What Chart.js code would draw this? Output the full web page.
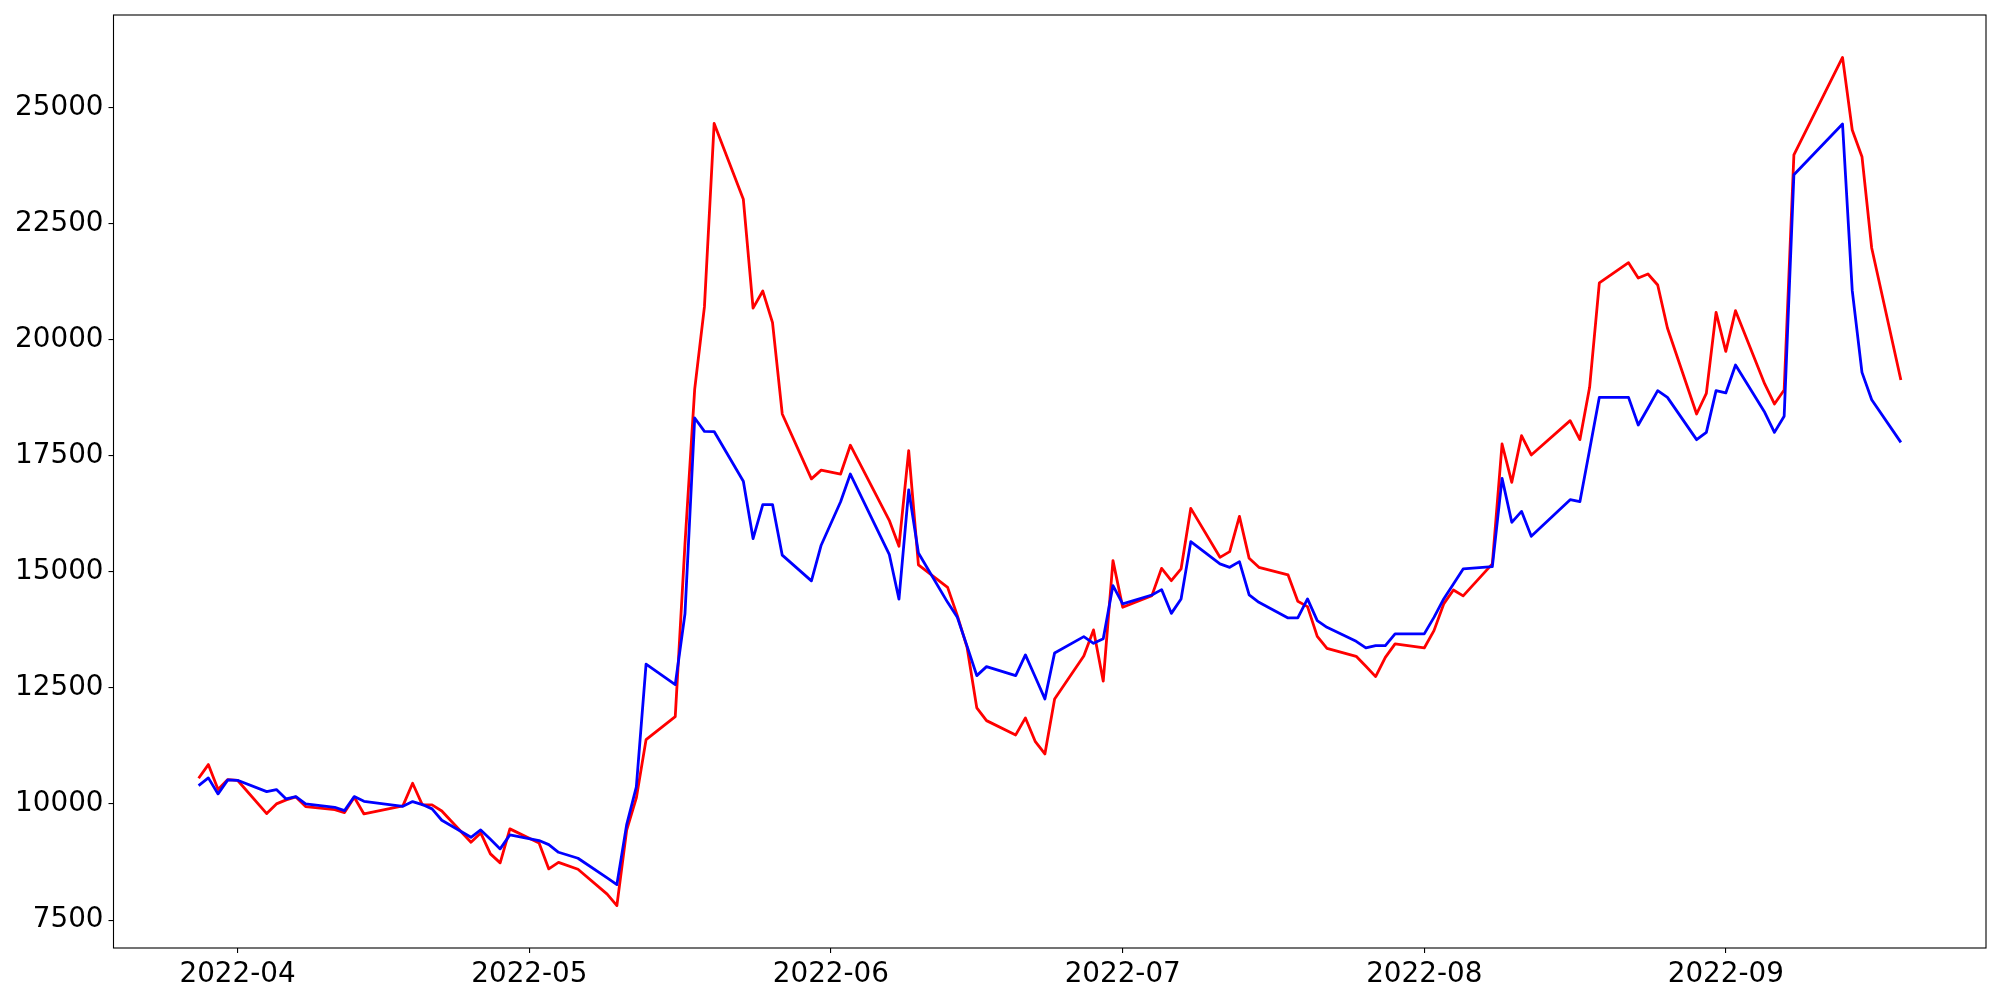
<!DOCTYPE html>
<html>
<head>
<meta charset="utf-8">
<script src="https://cdn.jsdelivr.net/npm/chart.js@4/dist/chart.umd.min.js"></script>
<style>
  body { margin: 0; background: #fff; }
  #wrap { width: 2000px; height: 1000px; }
</style>
</head>
<body>
<div id="wrap"><canvas id="chart" width="2000" height="1000"></canvas></div>
<script>
const dates = [
  '2022-03-28', '2022-03-29', '2022-03-30', '2022-03-31', '2022-04-01',
  '2022-04-04', '2022-04-05', '2022-04-06', '2022-04-07', '2022-04-08',
  '2022-04-11', '2022-04-12', '2022-04-13', '2022-04-14',
  '2022-04-18', '2022-04-19', '2022-04-20', '2022-04-21', '2022-04-22',
  '2022-04-25', '2022-04-26', '2022-04-27', '2022-04-28', '2022-04-29',
  '2022-05-02', '2022-05-03', '2022-05-04', '2022-05-06',
  '2022-05-09', '2022-05-10', '2022-05-11', '2022-05-12', '2022-05-13',
  '2022-05-16', '2022-05-17', '2022-05-18', '2022-05-19', '2022-05-20',
  '2022-05-23', '2022-05-24', '2022-05-25', '2022-05-26', '2022-05-27',
  '2022-05-30', '2022-05-31', '2022-06-02', '2022-06-03',
  '2022-06-07', '2022-06-08', '2022-06-09', '2022-06-10',
  '2022-06-13', '2022-06-14', '2022-06-15', '2022-06-16', '2022-06-17',
  '2022-06-20', '2022-06-21', '2022-06-22', '2022-06-23', '2022-06-24',
  '2022-06-27', '2022-06-28', '2022-06-29', '2022-06-30', '2022-07-01',
  '2022-07-04', '2022-07-05', '2022-07-06', '2022-07-07', '2022-07-08',
  '2022-07-11', '2022-07-12', '2022-07-13', '2022-07-14', '2022-07-15',
  '2022-07-18', '2022-07-19', '2022-07-20', '2022-07-21', '2022-07-22',
  '2022-07-25', '2022-07-26', '2022-07-27', '2022-07-28', '2022-07-29',
  '2022-08-01', '2022-08-02', '2022-08-03', '2022-08-04', '2022-08-05',
  '2022-08-08', '2022-08-09', '2022-08-10', '2022-08-11', '2022-08-12',
  '2022-08-16', '2022-08-17', '2022-08-18', '2022-08-19',
  '2022-08-22', '2022-08-23', '2022-08-24', '2022-08-25', '2022-08-26',
  '2022-08-29', '2022-08-30', '2022-08-31', '2022-09-01', '2022-09-02',
  '2022-09-05', '2022-09-06', '2022-09-07', '2022-09-08',
  '2022-09-13', '2022-09-14', '2022-09-15', '2022-09-16', '2022-09-19'
];

const redValues = [
  10553, 10848, 10310, 10525, 10510,
  9793, 10002, 10088, 10152, 9944,
  9879, 9814, 10144, 9786,
  9959, 10446, 9980, 9980, 9850,
  9175, 9377, 8925, 8732, 9464,
  9162, 8602, 8744, 8594,
  8060, 7812, 9430, 10130, 11386,
  11881, 15600, 18933, 20704, 24655,
  23021, 20678, 21045, 20364, 18398,
  17001, 17189, 17105, 17725,
  16108, 15550, 17608, 15147,
  14665, 14056, 13373, 12069, 11795,
  11487, 11853, 11350, 11078, 12262,
  13188, 13748, 12645, 15240, 14235,
  14487, 15074, 14809, 15061, 16366,
  15311, 15434, 16194, 15290, 15096,
  14932, 14364, 14250, 13610, 13352,
  13180, 12964, 12743, 13158, 13447,
  13360, 13733, 14308, 14609, 14480,
  15169, 17752, 16926, 17931, 17516,
  18254, 17845, 18971, 21219,
  21656, 21326, 21413, 21176, 20250,
  18398, 18842, 20586, 19746, 20622,
  19044, 18614, 18915, 23975,
  26076, 24513, 23938, 21972, 19130
];

const blueValues = [
  10396, 10562, 10217, 10518, 10510,
  10267, 10310, 10109, 10159, 10002,
  9929, 9857, 10159, 10058,
  9950, 10051, 9987, 9894, 9650,
  9283, 9442, 9240, 9033, 9334,
  9212, 9125, 8960, 8831,
  8410, 8264, 9550, 10370, 13010,
  12570, 14095, 18312, 18024, 18020,
  16950, 15716, 16448, 16448, 15358,
  14805, 15572, 16508, 17105,
  15376, 14410, 16762, 15406,
  14342, 14019, 13400, 12764, 12958,
  12764, 13210, 12740, 12262, 13253,
  13604, 13459, 13560, 14702, 14308,
  14500, 14616, 14105, 14415, 15649,
  15169, 15096, 15218, 14502, 14342,
  14006, 14006, 14415, 13948, 13804,
  13503, 13360, 13410, 13410, 13662,
  13662, 14019, 14415, 14738, 15061,
  15111, 17012, 16065, 16301, 15763,
  16553, 16510, 17630, 18756,
  18756, 18162, 18528, 18900, 18756,
  17845, 18002, 18900, 18851, 19453,
  18433, 18002, 18350, 23551,
  24642, 21053, 19294, 18706, 17787
];

const monthTicks = ['2022-04', '2022-05', '2022-06', '2022-07', '2022-08', '2022-09'];
const yTicks = [7500, 10000, 12500, 15000, 17500, 20000, 22500, 25000];

// days counted from 2022-04-01, used as a plain linear x axis
const dayOf = s => {
  const [y, m, d] = s.split('-').map(Number);
  return (Date.UTC(y, m - 1, d) - Date.UTC(2022, 3, 1)) / 86400000;
};

const xs = dates.map(dayOf);
const toPoints = vals => vals.map((v, i) => ({ x: xs[i], y: v }));

// matplotlib style 5% margins around the data
const allVals = redValues.concat(blueValues);
const yLo = Math.min(...allVals), yHi = Math.max(...allVals);
const xLo = Math.min(...xs), xHi = Math.max(...xs);
const yPad = (yHi - yLo) * 0.05, xPad = (xHi - xLo) * 0.05;

const frame = {
  id: 'frame',
  afterDraw(chart) {
    const a = chart.chartArea, ctx = chart.ctx;
    ctx.save();
    ctx.strokeStyle = '#000';
    ctx.lineWidth = 1.1;
    ctx.strokeRect(a.left, a.top, a.right - a.left, a.bottom - a.top);
    ctx.restore();
  }
};

Chart.defaults.font.family = 'DejaVu Sans';
Chart.defaults.font.size = 27.8;
Chart.defaults.color = '#000';

new Chart(document.getElementById('chart').getContext('2d'), {
  type: 'line',
  data: {
    datasets: [
      { data: toPoints(redValues), borderColor: '#ff0000', borderWidth: 2.8, order: 1 },
      { data: toPoints(blueValues), borderColor: '#0000ff', borderWidth: 2.8, order: 0 }
    ]
  },
  options: {
    responsive: false,
    animation: false,
    layout: { padding: { top: 15, right: 14, left: 0, bottom: 0 } },
    elements: { point: { radius: 0 }, line: { tension: 0, borderJoinStyle: 'round' } },
    plugins: { legend: { display: false }, tooltip: { enabled: false } },
    scales: {
      x: {
        type: 'linear',
        min: xLo - xPad,
        max: xHi + xPad,
        grid: { drawOnChartArea: false, tickLength: 5, color: '#000', lineWidth: 1.1 },
        border: { display: false },
        afterBuildTicks: s => { s.ticks = monthTicks.map(m => ({ value: dayOf(m + '-01') })); },
        afterFit: s => { s.height = 52; s.paddingLeft = 0; s.paddingRight = 0; },
        ticks: {
          autoSkip: false,
          maxRotation: 0,
          padding: 5,
          callback: v => monthTicks.find(m => dayOf(m + '-01') === v)
        }
      },
      y: {
        min: yLo - yPad,
        max: yHi + yPad,
        grid: { drawOnChartArea: false, tickLength: 5, color: '#000', lineWidth: 1.1 },
        border: { display: false },
        afterBuildTicks: s => { s.ticks = yTicks.map(v => ({ value: v })); },
        afterFit: s => { s.width = 113.5; s.paddingTop = 0; s.paddingBottom = 0; },
        ticks: { padding: 5, callback: v => String(v) }
      }
    }
  },
  plugins: [frame]
});
</script>
</body>
</html>
